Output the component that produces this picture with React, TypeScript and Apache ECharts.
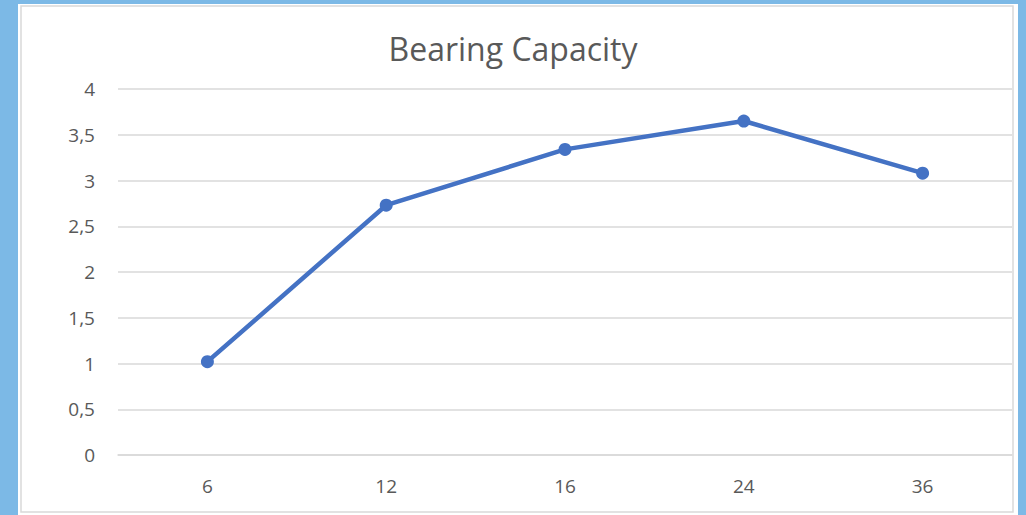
import React, { useEffect, useRef } from "react";
import * as echarts from "echarts";

const categories = ["6", "12", "16", "24", "36"];
const values = [1.02, 2.73, 3.34, 3.65, 3.08];
const yMin = 0;
const yMax = 4;
const yInterval = 0.5;

export default function App() {
  const ref = useRef<HTMLDivElement>(null);
  useEffect(() => {
    if (!ref.current) return;
    const chart = echarts.init(ref.current, undefined, { renderer: "svg" });
    chart.setOption({
      animation: false,
      backgroundColor: "#7cb9e6",
      graphic: [
        {
          type: "rect",
          z: -10,
          shape: { x: 18, y: 4, width: 1000, height: 515 },
          style: { fill: "#ffffff" },
        },
        {
          type: "rect",
          z: -9,
          shape: { x: 21, y: 6, width: 992, height: 506 },
          style: { fill: "#ffffff", stroke: "#d9d9d9", lineWidth: 1.5 },
        },
      ],
      title: {
        text: "Bearing Capacity",
        left: "center",
        top: 27,
        textStyle: {
          fontFamily: "Open Sans",
          fontSize: 32,
          fontWeight: "normal",
          color: "#595959",
        },
      },
      grid: { left: 118, right: 14, top: 89, bottom: 60 },
      xAxis: {
        type: "category",
        data: categories,
        boundaryGap: true,
        axisLine: { lineStyle: { color: "#d9d9d9", width: 1.5 } },
        axisTick: { show: false },
        axisLabel: {
          fontFamily: "Open Sans",
          fontSize: 19,
          color: "#595959",
          margin: 21,
        },
      },
      yAxis: {
        type: "value",
        min: yMin,
        max: yMax,
        interval: yInterval,
        axisLine: { show: false },
        axisTick: { show: false },
        splitLine: { lineStyle: { color: "#d9d9d9", width: 1.5 } },
        axisLabel: {
          fontFamily: "Open Sans",
          fontSize: 19,
          color: "#595959",
          margin: 23,
          formatter: (v: number) => String(v).replace(".", ","),
        },
      },
      series: [
        {
          type: "line",
          data: values,
          symbol: "circle",
          symbolSize: 13,
          lineStyle: { color: "#4472c4", width: 4.5 },
          itemStyle: { color: "#4472c4" },
        },
      ],
    });
    return () => chart.dispose();
  }, []);
  return (
    <div
      ref={ref}
      style={{ position: "fixed", left: 0, top: 0, width: 1026, height: 515 }}
    />
  );
}
